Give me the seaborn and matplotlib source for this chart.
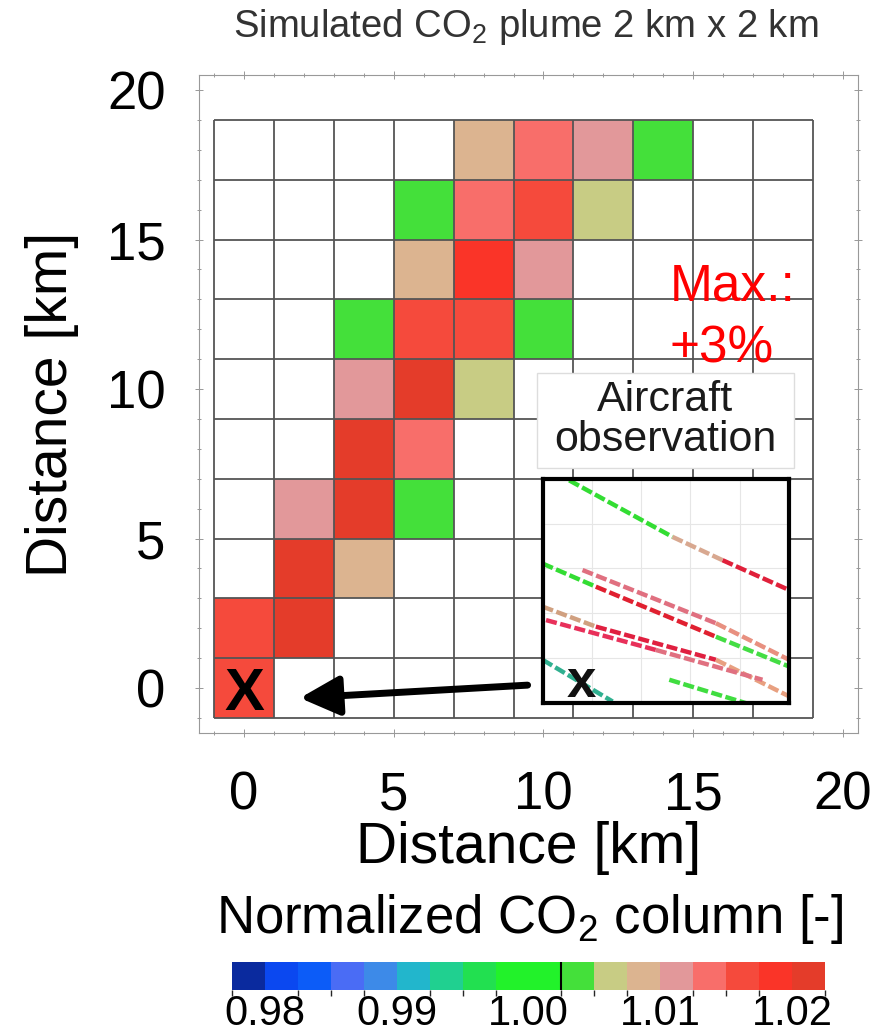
import numpy as np
import matplotlib
matplotlib.use("Agg")
import matplotlib.pyplot as plt
from matplotlib.colors import ListedColormap, BoundaryNorm
from matplotlib.cm import ScalarMappable
from matplotlib.patches import Rectangle
import seaborn as sns

# 2 km x 2 km grid, cell centres in km
x_km = [0, 2, 4, 6, 8, 10, 12, 14, 16, 18]
y_km = [0, 2, 4, 6, 8, 10, 12, 14, 16, 18]

# normalized CO2 column per cell, first row is y = 0 km (bottom); nan = no plume
nan = np.nan
co2_rows = [
    [1.016, nan, nan, nan, nan, nan, nan, nan, nan, nan],          # y = 0
    [1.016, 1.021, nan, nan, nan, nan, nan, nan, nan, nan],        # y = 2
    [nan, 1.021, 1.009, nan, nan, nan, nan, nan, nan, nan],        # y = 4
    [nan, 1.011, 1.021, 1.004, nan, nan, nan, nan, nan, nan],      # y = 6
    [nan, nan, 1.021, 1.014, nan, nan, nan, nan, nan, nan],        # y = 8
    [nan, nan, 1.011, 1.021, 1.006, nan, nan, nan, nan, nan],      # y = 10
    [nan, nan, 1.004, 1.016, 1.016, 1.004, nan, nan, nan, nan],    # y = 12
    [nan, nan, nan, 1.009, 1.019, 1.011, nan, nan, nan, nan],      # y = 14
    [nan, nan, nan, 1.004, 1.014, 1.016, 1.006, nan, nan, nan],    # y = 16
    [nan, nan, nan, nan, 1.009, 1.014, 1.011, 1.004, nan, nan],    # y = 18
]

# discrete colour scale of the colour bar
level_edges = [0.9775, 0.98, 0.9825, 0.985, 0.9875, 0.99, 0.9925, 0.995, 0.9975,
               1.0, 1.0025, 1.005, 1.0075, 1.01, 1.0125, 1.015, 1.0175, 1.02, 1.0225]
level_colors = ['#0a2a9e', '#0b48f0', '#0c5cf8', '#4a6cf5', '#3d8ae8', '#22b6cc',
                '#20d090', '#22e050', '#22f22a', '#22f22a', '#44e03a', '#c8cc84',
                '#dcb490', '#e2989a', '#f86e6a', '#f54a3c', '#fa3428', '#e43c2a']
cbar_ticks = [0.98, 0.99, 1.00, 1.01, 1.02]
cbar_ticklabels = ['0.98', '0.99', '1.00', '1.01', '1.02']
threshold = 1.0025

axis_ticks_km = [0, 5, 10, 15, 20]

# aircraft tracks in the inset (inset units 0..1), one colour per segment
track_xs = [
    [0.108, 0.527, 0.730, 1.0],
    [0.0, 0.216, 0.703, 1.0],
    [0.162, 0.703, 1.0],
    [0.0, 0.216, 0.703, 1.0],
    [0.014, 0.459, 0.892],
    [0.514, 0.824],
    [0.0, 0.284],
]
track_ys = [
    [0.993, 0.741, 0.637, 0.504],
    [0.622, 0.519, 0.296, 0.163],
    [0.593, 0.356, 0.193],
    [0.430, 0.341, 0.193, 0.030],
    [0.370, 0.237, 0.104],
    [0.104, 0.0],
    [0.193, 0.007],
]
track_cols = [
    ['#33dd33', '#d8a890', '#e0203a'],
    ['#33dd33', '#e02030', '#44dd44'],
    ['#e07080', '#e89080'],
    ['#d0a080', '#e02040', '#e8a080'],
    ['#e8305a', '#e07080'],
    ['#40dd40'],
    ['#30b090', '#44dd44'],
]


def km(v):
    # heatmap cell i spans [2i-1, 2i+1] km
    return (np.asarray(v) + 1) / 2


sns.set_theme(style="white")
plt.rcParams['font.family'] = ['Liberation Sans', 'DejaVu Sans']
plt.rcParams['mathtext.fontset'] = 'custom'
plt.rcParams['mathtext.rm'] = 'Liberation Sans'
plt.rcParams['mathtext.it'] = 'Liberation Sans:italic'
for key in ['text.color', 'axes.labelcolor', 'xtick.labelcolor', 'ytick.labelcolor']:
    plt.rcParams[key] = 'black'

fig = plt.figure(figsize=(8.84, 10.35), dpi=100)
ax = fig.add_axes([0.2251, 0.2918, 0.7455, 0.6357])

cmap = ListedColormap(level_colors)
norm = BoundaryNorm(level_edges, cmap.N)
co2 = np.array(co2_rows)

sns.heatmap(co2, ax=ax, cmap=cmap, norm=norm, cbar=False,
            xticklabels=False, yticklabels=False)

# cell grid
n = len(x_km)
ax.hlines(np.arange(n + 1), 0, n, color='#555555', lw=1.3, zorder=3)
ax.vlines(np.arange(n + 1), 0, n, color='#555555', lw=1.3, zorder=3)

ax.set_xlim(km(-1.5), km(20.5))
ax.set_ylim(km(-1.5), km(20.5))
for s in ax.spines.values():
    s.set_visible(True)
    s.set_color('#999999')
    s.set_linewidth(0.8)

ax.set_xticks(km(axis_ticks_km))
ax.set_xticklabels([str(t) for t in axis_ticks_km])
ax.set_yticks(km(axis_ticks_km))
ax.set_yticklabels([str(t) for t in axis_ticks_km])
ax.set_xticks(km(np.arange(-1, 21)), minor=True)
ax.set_yticks(km(np.arange(-1, 21)), minor=True)
ax.tick_params(which='both', direction='inout', color='#888888', width=0.6,
               top=True, right=True, bottom=True, left=True)
ax.tick_params(which='major', length=6)
ax.tick_params(which='minor', length=3)
ax.tick_params(axis='x', labelsize=38, pad=24)
ax.tick_params(axis='y', labelsize=38, pad=21)

ax.set_xlabel('Distance [km]', fontsize=41)
ax.set_ylabel('Distance [km]', fontsize=41)
ax.xaxis.set_label_coords(0.5, -0.134)
ax.yaxis.set_label_coords(-0.182, 0.5)

# source marker
ax.text(km(0), km(-0.73), 'X', fontsize=43, fontweight='bold', color='black',
        ha='center', va='baseline', zorder=4)

# arrow from inset to source
ax.annotate('', xy=(km(1.87), km(-0.33)), xytext=(km(9.47), km(0.1)),
            arrowprops=dict(arrowstyle='-|>,head_length=0.8,head_width=0.4',
                            lw=5, color='black', mutation_scale=30,
                            shrinkA=0, shrinkB=0), zorder=6)

ax.text(km(14.2), km(12.97), 'Max.:', color='red', fontsize=37, va='baseline', zorder=6)
ax.text(km(14.2), km(10.9), '+3%', color='red', fontsize=37, va='baseline', zorder=6)

# label box for the inset
ax.add_patch(Rectangle((km(9.77), km(7.37)), (18.37 - 9.77) / 2, (10.53 - 7.37) / 2,
                       facecolor='white', edgecolor='#dddddd', lw=1, zorder=5))
ax.text(km(14.07), km(8.97), 'Aircraft\nobservation', ha='center', va='center',
        fontsize=31, linespacing=1.0, color='#1a1a1a', zorder=6)

# inset with aircraft measurements
ins = ax.inset_axes([km(9.97), km(-0.5), (18.2 - 9.97) / 2, (7.0 + 0.5) / 2],
                    transform=ax.transData, zorder=7)
ins.set_facecolor('white')
ins.set_xlim(0, 1)
ins.set_ylim(0, 1)
ins.set_xticks(np.linspace(0, 1, 6))
ins.set_yticks(np.linspace(0, 1, 6))
ins.tick_params(length=0, labelbottom=False, labelleft=False)
ins.grid(True, color='#e6e6e6', lw=0.8)
for s in ins.spines.values():
    s.set_visible(True)
    s.set_color('black')
    s.set_linewidth(3)
for xs, ys, cols in zip(track_xs, track_ys, track_cols):
    for i, c in enumerate(cols):
        ins.plot(xs[i:i + 2], ys[i:i + 2], color=c, lw=3.2, ls=(0, (2.5, 0.8)),
                 solid_capstyle='butt')
ins.text(0.158, 0.027, 'x', fontsize=38, fontweight='bold', ha='center',
         va='baseline', color='#111111')

# colour bar
cax = fig.add_axes([232 / 884, 1 - 990 / 1035, 593 / 884, 28 / 1035])
cb = fig.colorbar(ScalarMappable(norm=norm, cmap=cmap), cax=cax,
                  orientation='horizontal', spacing='proportional')
cb.outline.set_visible(False)
cb.set_ticks(cbar_ticks)
cb.set_ticklabels(cbar_ticklabels)
cax.tick_params(length=0, labelsize=30, pad=3, labelcolor='black')
cax.axvline(threshold, color='black', lw=1.5)

fig.text(530 / 884, 1 - 933 / 1035, 'Normalized CO$_\\mathrm{2}$ column [-]',
         fontsize=38, ha='center', va='baseline')
fig.text(526 / 884, 1 - 37 / 1035, 'Simulated CO$_\\mathrm{2}$ plume 2 km x 2 km',
         fontsize=27.5, ha='center', va='baseline', color='#333333')

fig.savefig('out.png', dpi=100)
